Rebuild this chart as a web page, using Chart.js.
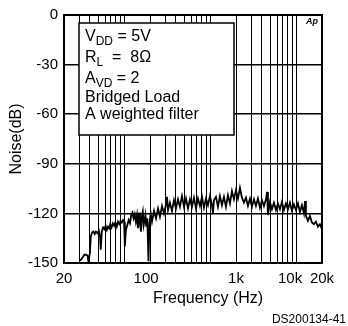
<!DOCTYPE html>
<html>
<head>
<meta charset="utf-8">
<script src="https://cdn.jsdelivr.net/npm/chart.js@4.4.0/dist/chart.umd.min.js"></script>
<style>
  html, body { margin: 0; padding: 0; background: #fff; }
  #wrap { width: 348px; height: 326px; position: relative; }
</style>
</head>
<body>
<div id="wrap"><canvas id="myChart"></canvas></div>
<script>
// noise spectrum
var freqHz = [
  30.7, 32, 33.5, 34.5, 36, 37.5, 38.5, 40, 41, 42.5, 44, 45.5, 47, 49, 51, 52.5, 53.5, 55, 57, 59,
  61, 63, 65, 67, 69, 71.5, 74, 76.5, 79, 82, 85, 88, 91, 94, 97, 100, 102, 105, 109, 113,
  117, 121, 125, 129, 133, 137, 141, 145, 149, 153, 157, 161, 165, 169, 173, 177, 181, 186, 192, 197,
  204, 211, 223, 235, 248, 261, 276, 291, 307, 315, 324, 341, 360, 380, 401, 423, 446, 471, 497, 524,
  553, 583, 615, 649, 685, 722, 762, 804, 848, 895, 944, 996, 1051, 1080, 1108, 1169, 1234, 1301, 1373, 1448,
  1528, 1612, 1701, 1794, 1893, 1997, 2107, 2223, 2345, 2474, 2610, 2754, 2905, 3065, 3234, 3411, 3599, 3797, 4006, 4226,
  4458, 4600, 4704, 4962, 5235, 5523, 5827, 6148, 6486, 6842, 7219, 7616, 8035, 8477, 8943, 9435, 9954, 10501, 11079, 11688,
  12331, 12700, 13009, 13725, 14480, 15276, 16116, 17003, 17938, 18924, 20000
];
var noiseDb = [
  -148.5, -147.5, -146, -145, -145, -145.5, -149, -144, -134, -131.5, -131, -132.5, -131, -132, -130.5, -134, -142, -131, -128.5, -129.5,
  -127.5, -130, -128, -129, -126.5, -128.5, -126, -127.5, -125.5, -128, -125, -126.5, -124.5, -125.5, -124, -125, -140, -130, -127, -124,
  -126, -121, -119.5, -123, -120.5, -125, -121, -129, -119.5, -126, -131, -122, -119, -127, -124, -121, -128, -123, -149, -126,
  -120, -125, -118.5, -123, -117, -122, -115.5, -120, -114.5, -110, -118, -113.5, -118.5, -112, -117, -111.5, -116, -109.5, -116, -111,
  -117, -111.5, -116, -110.5, -117, -111, -115.5, -110, -116.5, -111, -115, -109.5, -115, -120, -112, -110, -116, -109.5, -115, -110,
  -116, -109, -114, -106.5, -111.5, -106, -111, -104.5, -110.5, -113.5, -110.5, -115.5, -111, -116, -111.5, -115.5, -111, -116.5, -112, -115.5,
  -111.5, -107, -121, -113, -117.5, -113.5, -118, -114, -117.5, -113, -118, -114, -117.5, -113.5, -118.5, -114.5, -118, -114, -119, -115,
  -120, -112.5, -121.5, -124.5, -121.5, -125.5, -126.5, -125, -128, -126.5, -129.5
];

var gridHz = [20, 30, 40, 50, 60, 70, 80, 90, 100, 200, 300, 400, 500, 600, 700, 800, 900,
  1000, 2000, 3000, 4000, 5000, 6000, 7000, 8000, 9000, 10000, 20000];
// the printed frequency labels sit a little right of their grid lines
var xLabelHz = [20, 180, 2000, 8500, 20000];
var xLabels = ['20', '100', '1k', '10k', '20k'];

var notes = [
  [['V', 0], ['DD', 1], [' = 5V', 0]],
  [['R', 0], ['L', 1], ['  =  8\u03A9', 0]],
  [['A', 0], ['VD', 1], [' = 2', 0]],
  [['Bridged Load', 0]],
  [['A weighted filter', 0]]
];

var FONT = '"Liberation Sans", Arial, Helvetica, sans-serif';

var notesPlugin = {
  id: 'notes',
  afterDatasetsDraw: function (chart) {
    var ctx = chart.ctx, a = chart.chartArea;
    ctx.save();
    // condition box
    var bx = a.left + 15, by = a.top + 8, bw = 155, bh = 112;
    ctx.fillStyle = '#fff';
    ctx.fillRect(bx, by, bw, bh);
    ctx.strokeStyle = '#000';
    ctx.lineWidth = 1.5;
    ctx.strokeRect(bx, by, bw, bh);

    ctx.fillStyle = '#000';
    ctx.textBaseline = 'alphabetic';
    ctx.textAlign = 'left';
    var base = [26, 47, 68, 87, 104];
    notes.forEach(function (line, i) {
      var x = bx + 6;
      line.forEach(function (seg) {
        if (seg[1]) {
          ctx.font = '12px ' + FONT;
          ctx.fillText(seg[0], x, a.top + base[i] + 4);
        } else {
          ctx.font = '16px ' + FONT;
          ctx.fillText(seg[0], x, a.top + base[i]);
        }
        x += ctx.measureText(seg[0]).width;
      });
    });

    // Ap mark
    ctx.font = 'italic bold 9px ' + FONT;
    ctx.textAlign = 'right';
    ctx.fillText('Ap', a.right - 4, a.top + 9);

    // frame
    ctx.lineWidth = 2;
    ctx.strokeRect(a.left, a.top, a.right - a.left, a.bottom - a.top);

    // axis title, printed off-centre to the right
    ctx.font = '16px ' + FONT;
    ctx.textAlign = 'center';
    ctx.textBaseline = 'middle';
    ctx.fillText('Frequency (Hz)', (a.left + a.right) / 2 + 15, a.bottom + 36);

    // drawing number
    ctx.font = '12px ' + FONT;
    ctx.textAlign = 'right';
    ctx.fillText('DS200134-41', chart.width - 2, chart.height - 6);
    ctx.restore();
  }
};

var ctx = document.getElementById('myChart');
var myChart = new Chart(ctx, {
  type: 'line',
  data: {
    datasets: [{
      data: freqHz.map(function (f, i) { return { x: f, y: noiseDb[i] }; }),
      borderColor: '#000',
      borderWidth: 1.8,
      pointRadius: 0,
      tension: 0,
      fill: false
    }]
  },
  options: {
    responsive: true,
    maintainAspectRatio: false,
    animation: false,
    layout: { padding: { top: 10, right: 26, left: 0, bottom: 0 } },
    plugins: {
      legend: { display: false },
      tooltip: { enabled: false }
    },
    scales: {
      x: {
        type: 'logarithmic',
        position: 'bottom',
        min: 20,
        max: 20000,
        afterBuildTicks: function (axis) {
          axis.ticks = gridHz.map(function (v) { return { value: v }; });
        },
        afterFit: function (axis) { axis.height = 0; },
        ticks: { display: false, autoSkip: false },
        grid: { color: '#000', lineWidth: 1, drawTicks: false },
        border: { display: false }
      },
      xl: {
        type: 'logarithmic',
        position: 'bottom',
        min: 20,
        max: 20000,
        afterBuildTicks: function (axis) {
          axis.ticks = xLabelHz.map(function (v) { return { value: v }; });
        },
        afterFit: function (axis) { axis.height = 63; },
        ticks: {
          autoSkip: false,
          maxRotation: 0,
          padding: 7,
          color: '#000',
          font: { family: FONT, size: 15 },
          callback: function (v) { return xLabels[xLabelHz.indexOf(v)]; }
        },
        grid: { display: false, drawTicks: false },
        border: { display: false }
      },
      y: {
        type: 'linear',
        min: -150,
        max: 0,
        ticks: {
          stepSize: 30,
          padding: 6,
          color: '#000',
          font: { family: FONT, size: 15 }
        },
        afterFit: function (axis) { axis.width = 64; },
        grid: { color: '#000', lineWidth: 1.6, drawTicks: false },
        border: { display: false },
        title: {
          display: true,
          text: 'Noise(dB)',
          color: '#000',
          font: { family: FONT, size: 16 },
          padding: { top: 7, bottom: 0 }
        }
      }
    }
  },
  plugins: [notesPlugin]
});
</script>
</body>
</html>
